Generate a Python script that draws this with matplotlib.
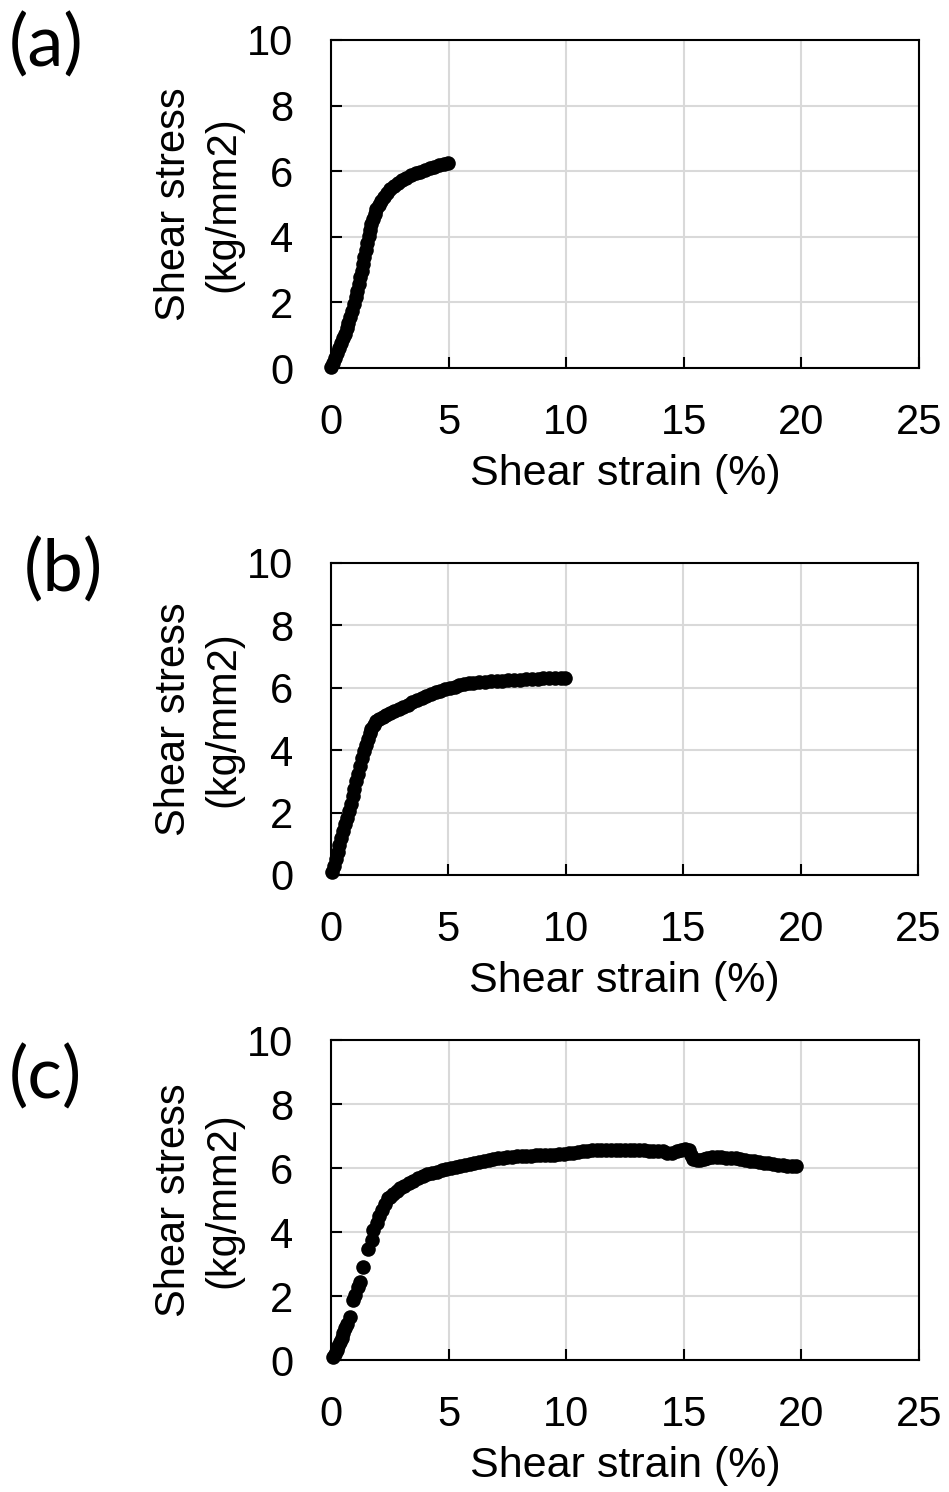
import matplotlib
matplotlib.use("Agg")
import matplotlib.pyplot as plt

# Shear stress–strain records for three specimens
strain_a = [0.02, 0.10, 0.18, 0.26, 0.34, 0.42, 0.50, 0.58, 0.66, 0.74, 0.82, 0.90, 0.98,
            1.05, 1.12, 1.18, 1.24, 1.30, 1.36, 1.42, 1.48, 1.54, 1.60, 1.66, 1.72, 1.78,
            1.85, 1.93, 2.02, 2.12, 2.24, 2.38, 2.52, 2.68, 2.85, 3.02, 3.20, 3.40, 3.60,
            3.80, 4.00, 4.20, 4.40, 4.60, 4.80, 4.98]
stress_a = [0.03, 0.15, 0.30, 0.45, 0.60, 0.75, 0.90, 1.05, 1.21, 1.38, 1.56, 1.75, 1.95,
            2.15, 2.36, 2.56, 2.76, 2.97, 3.18, 3.39, 3.60, 3.81, 4.01, 4.21, 4.39, 4.55,
            4.71, 4.85, 4.98, 5.10, 5.22, 5.35, 5.45, 5.55, 5.64, 5.72, 5.80, 5.87, 5.93,
            5.99, 6.04, 6.09, 6.13, 6.18, 6.22, 6.25]

strain_b = [0.05, 0.12, 0.20, 0.28, 0.36, 0.44, 0.52, 0.60, 0.68, 0.76, 0.84, 0.92, 1.00,
            1.08, 1.16, 1.24, 1.32, 1.40, 1.48, 1.56, 1.64, 1.72, 1.82, 1.93, 2.05, 2.20,
            2.36, 2.52, 2.70, 2.88, 3.06, 3.26, 3.46, 3.66, 3.86, 4.06, 4.26, 4.46, 4.66,
            4.86, 5.06, 5.26, 5.46, 5.66, 5.86, 6.06, 6.30, 6.55, 6.80, 7.05, 7.30, 7.55,
            7.80, 8.05, 8.30, 8.55, 8.80, 9.05, 9.30, 9.55, 9.80, 9.97]
stress_b = [0.10, 0.30, 0.52, 0.74, 0.96, 1.18, 1.40, 1.62, 1.84, 2.06, 2.28, 2.52, 2.76,
            3.00, 3.25, 3.50, 3.74, 3.96, 4.16, 4.36, 4.54, 4.68, 4.82, 4.93, 5.01, 5.07,
            5.14, 5.20, 5.27, 5.33, 5.39, 5.46, 5.53, 5.60, 5.67, 5.74, 5.80, 5.86, 5.91,
            5.96, 6.00, 6.04, 6.08, 6.11, 6.14, 6.16, 6.18, 6.20, 6.21, 6.22, 6.23, 6.24,
            6.25, 6.26, 6.27, 6.28, 6.29, 6.30, 6.30, 6.31, 6.31, 6.32]

strain_c = [0.10, 0.17, 0.24, 0.31, 0.38, 0.45, 0.52, 0.60, 0.66, 0.81, 0.95, 1.02, 1.16,
            1.23, 1.37, 1.59, 1.73, 1.80, 1.94, 2.05, 2.15, 2.30, 2.44,
            2.50, 2.65, 2.80, 2.95, 3.10, 3.30, 3.50, 3.70, 3.90, 4.10, 4.30, 4.50, 4.70,
            4.90, 5.10, 5.30, 5.50, 5.70, 5.90, 6.10, 6.30, 6.50, 6.70, 6.90, 7.10, 7.30,
            7.50, 7.70, 7.90, 8.10, 8.30, 8.50, 8.70, 8.90, 9.10, 9.30, 9.50, 9.70, 9.90,
            10.10, 10.30, 10.50, 10.70, 10.90, 11.10, 11.30, 11.50, 11.70, 11.90, 12.10,
            12.30, 12.50, 12.70, 12.90, 13.10, 13.30, 13.50, 13.70, 13.90, 14.10, 14.30,
            14.50, 14.70, 14.90, 15.05, 15.20, 15.30, 15.40, 15.55, 15.70, 15.85, 16.00,
            16.20, 16.40, 16.60, 16.80, 17.00, 17.20, 17.40, 17.60, 17.80, 18.00, 18.20,
            18.40, 18.60, 18.80, 19.00, 19.20, 19.40, 19.60, 19.75]
stress_c = [0.10, 0.20, 0.32, 0.44, 0.57, 0.70, 0.85, 1.00, 1.12, 1.35, 1.87, 2.03, 2.29,
            2.45, 2.90, 3.46, 3.75, 4.06, 4.27, 4.50, 4.69, 4.87, 5.05,
            5.10, 5.20, 5.29, 5.37, 5.45, 5.53, 5.60, 5.68, 5.74, 5.80, 5.85, 5.89, 5.93,
            5.97, 6.00, 6.04, 6.07, 6.10, 6.14, 6.17, 6.20, 6.23, 6.26, 6.28, 6.30, 6.32,
            6.33, 6.35, 6.36, 6.37, 6.38, 6.39, 6.40, 6.41, 6.41, 6.42, 6.42, 6.43, 6.44,
            6.46, 6.48, 6.50, 6.52, 6.54, 6.55, 6.56, 6.56, 6.56, 6.56, 6.56,
            6.56, 6.56, 6.56, 6.55, 6.55, 6.55, 6.54, 6.54, 6.53, 6.52, 6.48,
            6.47, 6.52, 6.56, 6.58, 6.56, 6.42, 6.27, 6.24, 6.25, 6.27, 6.32,
            6.35, 6.34, 6.35, 6.32, 6.31, 6.30, 6.27, 6.25, 6.23, 6.21, 6.19,
            6.17, 6.15, 6.12, 6.10, 6.08, 6.07, 6.06, 6.06]

panel_labels = ["(a)", "(b)", "(c)"]
x_ticks = [0, 5, 10, 15, 20, 25]
y_ticks = [0, 2, 4, 6, 8, 10]
x_title = "Shear strain (%)"
y_title = "Shear stress\n(kg/mm2)"

W, H = 949, 1492
fig = plt.figure(figsize=(W / 100, H / 100), dpi=100)

# axes boxes in pixels: left, top, right, bottom
boxes = [(331, 40, 919, 368), (331, 563, 918, 875), (331, 1040, 919, 1360)]
label_pos = [(9, 66), (24, 591), (9, 1098)]
series = [(strain_a, stress_a), (strain_b, stress_b), (strain_c, stress_c)]

text_font = "Liberation Sans"

for (l, t, r, b), (xs, ys), lab, (lx, ly) in zip(boxes, series, panel_labels, label_pos):
    ax = fig.add_axes([l / W, 1 - b / H, (r - l) / W, (b - t) / H])
    ax.plot(xs, ys, "o", color="black", ms=10.5, mew=0, clip_on=False, zorder=3)
    ax.set_xlim(0, 25)
    ax.set_ylim(0, 10)
    ax.set_xticks(x_ticks)
    ax.set_yticks(y_ticks)
    ax.set_axisbelow(True)
    ax.grid(True, color="#d9d9d9", lw=1.5)
    for sp in ax.spines.values():
        sp.set_linewidth(1.5)
        sp.set_color("black")
    ax.tick_params(direction="in", length=8, width=1.5, colors="black")
    ax.tick_params(axis="x", pad=25)
    ax.tick_params(axis="y", pad=27)
    for tl in ax.get_xticklabels() + ax.get_yticklabels():
        tl.set_fontfamily(text_font)
        tl.set_fontsize(30)
    ax.set_xlabel(x_title, fontsize=31, family=text_font, labelpad=8)
    ax.set_ylabel(y_title, fontsize=30, family=text_font, labelpad=3, linespacing=1.3)
    fig.text(lx / W, 1 - ly / H, lab, fontsize=52, family="Lato",
             ha="left", va="baseline")

fig.savefig("out.png", dpi=100)
